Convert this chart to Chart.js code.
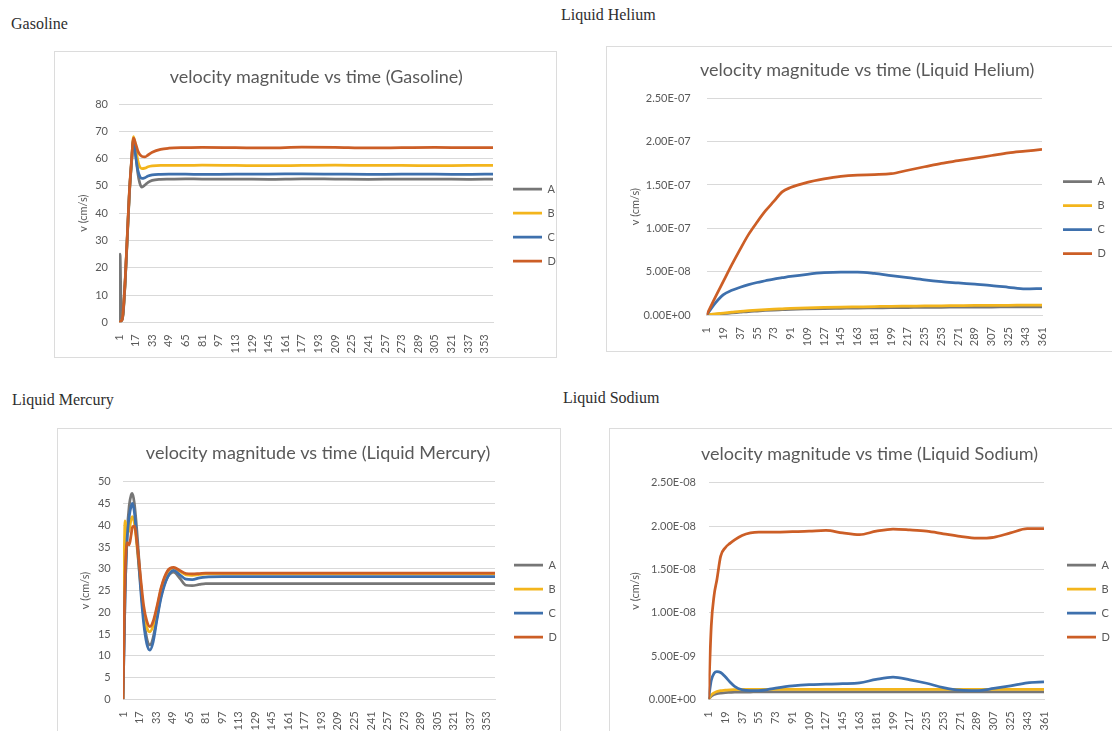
<!DOCTYPE html>
<html>
<head>
<meta charset="utf-8">
<script src="https://cdn.jsdelivr.net/npm/chart.js@4.4.1/dist/chart.umd.min.js"></script>
<style>
  html, body { margin: 0; padding: 0; background: #fff; }
  body { width: 1112px; height: 731px; overflow: hidden; position: relative; }
  .cap { position: absolute; font-family: 'Liberation Serif', serif; font-size: 16px; line-height: 16px; color: #2e2e2e; white-space: nowrap; }
  .box { position: absolute; border: 1px solid #dcdcdc; box-sizing: border-box; }
  .cv { position: absolute; }
</style>
</head>
<body>
<div class="cap" style="left:11px;top:16px">Gasoline</div>
<div class="cap" style="left:561px;top:7px">Liquid Helium</div>
<div class="cap" style="left:12px;top:392px">Liquid Mercury</div>
<div class="cap" style="left:563px;top:390px">Liquid Sodium</div>

<div class="box" style="left:54px;top:51px;width:503px;height:307px"></div>
<div class="box" style="left:606px;top:46px;width:520px;height:306px"></div>
<div class="box" style="left:57px;top:428px;width:504px;height:320px"></div>
<div class="box" style="left:609px;top:428px;width:520px;height:320px"></div>

<div class="cv" style="left:54px;top:51px;width:506px;height:307px"><canvas id="cGas"></canvas></div>
<div class="cv" style="left:606px;top:46px;width:504px;height:306px"><canvas id="cHel"></canvas></div>
<div class="cv" style="left:57px;top:429px;width:504px;height:310px"><canvas id="cMer"></canvas></div>
<div class="cv" style="left:609px;top:429px;width:505px;height:310px"><canvas id="cSod"></canvas></div>

<script>
// ===== DATA =====
const seriesNames = ['A', 'B', 'C', 'D'];
const ticks16 = [1, 17, 33, 49, 65, 81, 97, 113, 129, 145, 161, 177, 193, 209, 225, 241, 257, 273, 289, 305, 321, 337, 353];
const ticks18 = [1, 19, 37, 55, 73, 91, 109, 127, 145, 163, 181, 199, 217, 235, 253, 271, 289, 307, 325, 343, 361];

// Gasoline
const gasT = [1, 2, 3, 4, 5, 7, 9, 11, 13, 15, 17, 19, 21, 23, 26, 29, 33, 41, 49, 65, 81, 113, 145, 177, 209, 241, 273, 305, 337, 361];
const gasA = [0, 25, 5, 1, 3, 15, 31, 47, 58, 66.5, 62, 55, 51, 49.5, 50.3, 51.3, 52, 52.4, 52.5, 52.6, 52.5, 52.5, 52.4, 52.6, 52.5, 52.4, 52.5, 52.5, 52.4, 52.5];
const gasB = [0, 0, 0.5, 1, 3.5, 15.5, 31.5, 47.5, 58.5, 68, 64, 59.5, 57, 56.3, 56.5, 57, 57.3, 57.5, 57.5, 57.5, 57.6, 57.5, 57.4, 57.5, 57.6, 57.5, 57.5, 57.4, 57.5, 57.5];
const gasC = [0, 0, 0.5, 1, 3.5, 15.5, 31.5, 47.5, 58.5, 67, 61, 56, 53.5, 52.7, 53, 53.6, 54, 54.2, 54.3, 54.3, 54.2, 54.3, 54.3, 54.4, 54.3, 54.2, 54.3, 54.3, 54.2, 54.3];
const gasD = [0, 0, 0.5, 1, 4, 16, 32, 48, 59, 67.5, 65.5, 63, 61.5, 60.8, 60.6, 61.3, 62.3, 63.4, 63.8, 64, 64.1, 64, 63.9, 64.2, 64.1, 63.9, 64, 64.1, 64, 64];

// Liquid Helium
const helT = [1, 10, 19, 28, 37, 46, 55, 64, 73, 82, 91, 109, 127, 145, 163, 181, 199, 217, 235, 253, 271, 289, 307, 325, 343, 361];
const helA = [0, 0.8e-9, 1.6e-9, 2.4e-9, 3.2e-9, 4.0e-9, 4.6e-9, 5.2e-9, 5.7e-9, 6.1e-9, 6.5e-9, 7.0e-9, 7.4e-9, 7.7e-9, 8.0e-9, 8.2e-9, 8.4e-9, 8.6e-9, 8.8e-9, 8.9e-9, 9.0e-9, 9.1e-9, 9.2e-9, 9.3e-9, 9.4e-9, 9.5e-9];
const helB = [0, 1.2e-9, 2.2e-9, 3.2e-9, 4.2e-9, 5.0e-9, 5.7e-9, 6.3e-9, 6.8e-9, 7.2e-9, 7.6e-9, 8.2e-9, 8.7e-9, 9.1e-9, 9.4e-9, 9.7e-9, 1.0e-8, 1.02e-8, 1.04e-8, 1.06e-8, 1.08e-8, 1.1e-8, 1.11e-8, 1.12e-8, 1.14e-8, 1.15e-8];
const helC = [0, 1.35e-8, 2.35e-8, 2.85e-8, 3.2e-8, 3.5e-8, 3.75e-8, 3.95e-8, 4.15e-8, 4.3e-8, 4.45e-8, 4.7e-8, 4.88e-8, 4.95e-8, 4.95e-8, 4.8e-8, 4.55e-8, 4.3e-8, 4.05e-8, 3.85e-8, 3.7e-8, 3.55e-8, 3.4e-8, 3.2e-8, 3.0e-8, 3.05e-8];
const helD = [0, 2.0e-8, 3.9e-8, 5.8e-8, 7.6e-8, 9.3e-8, 1.07e-7, 1.2e-7, 1.31e-7, 1.42e-7, 1.47e-7, 1.53e-7, 1.57e-7, 1.6e-7, 1.615e-7, 1.62e-7, 1.63e-7, 1.67e-7, 1.71e-7, 1.75e-7, 1.78e-7, 1.81e-7, 1.84e-7, 1.87e-7, 1.89e-7, 1.91e-7];

// Liquid Mercury
const merT = [1, 2, 3, 5, 7, 9, 10, 12, 15, 18, 21, 24, 27, 30, 34, 38, 44, 50, 56, 62, 68, 75, 81, 97, 129, 161, 193, 225, 257, 289, 321, 361];
const merA = [0, 12, 24, 38, 44.5, 47, 47.3, 45, 37, 27, 19, 14, 12.5, 14, 19, 24, 28, 29.2, 27.8, 26.2, 26.1, 26.4, 26.6, 26.6, 26.6, 26.6, 26.6, 26.6, 26.6, 26.6, 26.6, 26.6];
const merB = [0, 28, 41, 38, 39, 41.5, 42, 40.5, 34, 26.5, 20, 16.5, 15.5, 16.8, 21, 25.5, 29.2, 30.2, 29.4, 28.6, 28.5, 28.7, 28.8, 28.8, 28.8, 28.8, 28.8, 28.8, 28.8, 28.8, 28.8, 28.8];
const merC = [0, 12, 24, 37, 42, 44.5, 45, 43, 35, 25.5, 17.5, 12.8, 11.3, 13, 18.5, 23.5, 28, 29.6, 28.6, 27.6, 27.5, 27.9, 28.1, 28.2, 28.2, 28.2, 28.2, 28.2, 28.2, 28.2, 28.2, 28.2];
const merD = [0, 15, 28, 36, 35.5, 38, 39.5, 39.8, 35, 28, 21.5, 18, 16.7, 17.8, 21.5, 25.8, 29.5, 30.3, 29.6, 28.9, 28.8, 28.9, 29, 29, 29, 29, 29, 29, 29, 29, 29, 29];

// Liquid Sodium
const sodT = [1, 4, 7, 10, 14, 19, 24, 29, 37, 46, 55, 73, 91, 109, 127, 145, 163, 181, 199, 217, 235, 253, 271, 289, 307, 325, 343, 361];
const sodA = [0, 3.5e-10, 5.5e-10, 6.5e-10, 7.2e-10, 7.8e-10, 8.0e-10, 8.2e-10, 8.3e-10, 8.4e-10, 8.5e-10, 8.5e-10, 8.5e-10, 8.5e-10, 8.5e-10, 8.5e-10, 8.5e-10, 8.5e-10, 8.5e-10, 8.5e-10, 8.5e-10, 8.5e-10, 8.5e-10, 8.5e-10, 8.5e-10, 8.5e-10, 8.5e-10, 8.5e-10];
const sodB = [0, 5.0e-10, 7.5e-10, 9.0e-10, 1.0e-9, 1.05e-9, 1.1e-9, 1.12e-9, 1.14e-9, 1.15e-9, 1.15e-9, 1.15e-9, 1.15e-9, 1.15e-9, 1.15e-9, 1.15e-9, 1.15e-9, 1.15e-9, 1.15e-9, 1.15e-9, 1.15e-9, 1.15e-9, 1.15e-9, 1.15e-9, 1.15e-9, 1.15e-9, 1.15e-9, 1.15e-9];
const sodC = [0, 2.2e-9, 3.0e-9, 3.2e-9, 3.1e-9, 2.6e-9, 2.0e-9, 1.5e-9, 1.1e-9, 1.0e-9, 1.0e-9, 1.3e-9, 1.55e-9, 1.7e-9, 1.75e-9, 1.8e-9, 1.9e-9, 2.3e-9, 2.55e-9, 2.25e-9, 1.85e-9, 1.35e-9, 1.05e-9, 1.0e-9, 1.25e-9, 1.55e-9, 1.9e-9, 2.0e-9];
const sodD = [0, 8.5e-9, 1.2e-8, 1.38e-8, 1.65e-8, 1.75e-8, 1.8e-8, 1.84e-8, 1.89e-8, 1.92e-8, 1.93e-8, 1.93e-8, 1.935e-8, 1.94e-8, 1.95e-8, 1.92e-8, 1.9e-8, 1.94e-8, 1.965e-8, 1.955e-8, 1.94e-8, 1.91e-8, 1.88e-8, 1.86e-8, 1.87e-8, 1.92e-8, 1.97e-8, 1.97e-8];

// ===== STYLE =====
const seriesColors = ['#767676', '#f3b51c', '#3e70ad', '#cc5e26'];
const txtColor = '#595959';
const gridColor = '#d9d9d9';
Chart.defaults.font.family = 'Lato';

// format 2.50E-07 seperti Excel
function sci(v) {
    if (v === 0) return '0.00E+00';
    const p = v.toExponential(2).split('e');
    const e = parseInt(p[1], 10);
    return p[0] + 'E' + (e < 0 ? '-' : '+') + String(Math.abs(e)).padStart(2, '0');
}

function makeChart(id, c) {
    const datasets = seriesNames.map((name, i) => ({
        label: name,
        data: c.time.map((t, j) => ({ x: t, y: c.values[i][j] })),
        borderColor: seriesColors[i],
        backgroundColor: seriesColors[i],
        borderWidth: 2.75,
        pointRadius: 0,
        cubicInterpolationMode: 'monotone',
        order: 4 - i
    }));

    return new Chart(document.getElementById(id), {
        type: 'line',
        data: { datasets },
        options: {
            responsive: true,
            maintainAspectRatio: false,
            animation: false,
            layout: { padding: { left: c.padL, right: 0, top: 0, bottom: 0 } },
            plugins: {
                title: {
                    display: true,
                    text: c.title,
                    color: txtColor,
                    font: { size: 18, weight: 'normal' },
                    padding: { top: c.tp, bottom: c.tb }
                },
                legend: {
                    position: 'right',
                    fullSize: false,
                    align: 'center',
                    maxWidth: 60,
                    title: { display: true, text: '', font: { size: 12 }, padding: { top: 0, bottom: c.lt - 14.4 } },
                    labels: {
                        usePointStyle: true,
                        pointStyle: 'line',
                        pointStyleWidth: 29,
                        padding: 13,
                        color: txtColor,
                        font: { size: 11 },
                        sort: (a, b) => a.datasetIndex - b.datasetIndex
                    }
                },
                tooltip: { enabled: false }
            },
            scales: {
                x: {
                    type: 'linear',
                    min: 1,
                    max: 361,
                    afterBuildTicks: ax => { ax.ticks = c.ticks.map(v => ({ value: v })); },
                    afterFit: s => { s.height = c.xh; },
                    grid: { display: false },
                    border: { color: gridColor },
                    ticks: { autoSkip: false, minRotation: 90, maxRotation: 90, padding: 4, color: txtColor, font: { size: 11 } }
                },
                y: {
                    min: 0,
                    max: c.yMax,
                    afterFit: s => { s.width = c.yw; },
                    grid: { color: gridColor, drawTicks: false },
                    border: { display: false },
                    ticks: { stepSize: c.yStep, padding: c.yPad, color: txtColor, font: { size: 11 }, callback: c.fmt },
                    title: { display: true, text: 'v (cm/s)', color: txtColor, font: { size: 11 } }
                },
                gap: {
                    position: 'right',
                    grid: { display: false },
                    border: { display: false },
                    ticks: { display: false },
                    afterFit: s => { s.width = c.gap; }
                }
            }
        }
    });
}

const plain = v => v;

makeChart('cGas', {
    title: 'velocity magnitude vs time (Gasoline)',
    time: gasT, values: [gasA, gasB, gasC, gasD], ticks: ticks16,
    yMax: 80, yStep: 10, fmt: plain,
    padL: 18.5, yw: 46.5, yPad: 11, xh: 35.7, tp: 14.9, tb: 16.5, lt: 23.7, gap: 7
});

makeChart('cHel', {
    title: 'velocity magnitude vs time (Liquid Helium)',
    time: helT, values: [helA, helB, helC, helD], ticks: ticks18,
    yMax: 2.5e-7, yStep: 5e-8, fmt: sci,
    padL: 18.4, yw: 82.3, yPad: 16, xh: 37, tp: 13.2, tb: 17.5, lt: 22.1, gap: 8
});

makeChart('cMer', {
    title: 'velocity magnitude vs time (Liquid Mercury)',
    time: merT, values: [merA, merB, merC, merD], ticks: ticks16,
    yMax: 50, yStep: 5, fmt: plain,
    padL: 18.1, yw: 47.9, yPad: 12.3, xh: 39.7, tp: 13.5, tb: 17.6, lt: 21, gap: 6
});

makeChart('cSod', {
    title: 'velocity magnitude vs time (Liquid Sodium)',
    time: sodT, values: [sodA, sodB, sodC, sodD], ticks: ticks18,
    yMax: 2.5e-8, yStep: 5e-9, fmt: sci,
    padL: 16.2, yw: 83.3, yPad: 12.5, xh: 39.7, tp: 14.2, tb: 17.9, lt: 20, gap: 10
});
</script>
</body>
</html>
